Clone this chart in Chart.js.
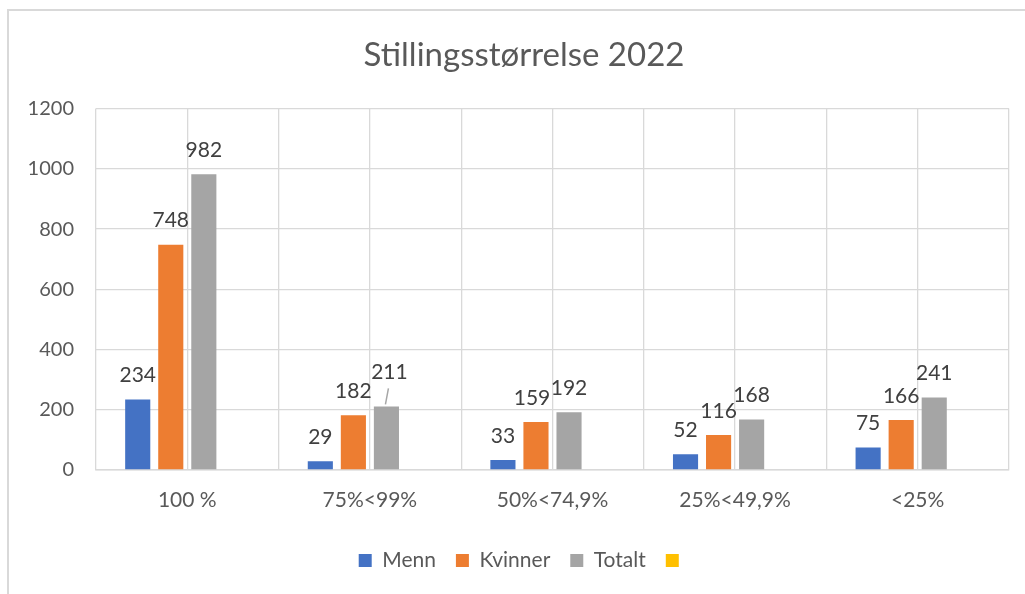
<!DOCTYPE html>
<html>
<head>
<meta charset="utf-8">
<script src="https://cdn.jsdelivr.net/npm/chart.js@4.4.1/dist/chart.umd.min.js"></script>
<style>
  html, body { margin: 0; background: #fff; overflow: hidden; }
  #frame { position: absolute; left: 7px; top: 9px; width: 1030px; height: 600px;
           border-left: 2px solid #d9d9d9; border-top: 2px solid #d9d9d9; }
  #wrap { position: absolute; left: 0; top: 0; width: 1048px; height: 594px; }
</style>
</head>
<body>
<div id="frame"></div>
<div id="wrap"><canvas id="myChart" width="1048" height="594"></canvas></div>
<script>
// data
var categories = ['100 %', '75%<99%', '50%<74,9%', '25%<49,9%', '<25%'];
var menn    = [234, 29, 33, 52, 75];
var kvinner = [748, 182, 159, 116, 166];
var totalt  = [982, 211, 192, 168, 241];
var tom     = [null, null, null, null, null]; // empty 4th series, only in the legend
var yTicks  = [0, 200, 400, 600, 800, 1000, 1200];

var FONT = 'Lato, "Open Sans", sans-serif';

// value labels above bars (no datalabels plugin available offline)
var barLabels = {
  id: 'barLabels',
  afterDatasetsDraw: function(chart, args, opts) {
    var ctx = chart.ctx;
    ctx.save();
    ctx.font = '21px ' + FONT;
    ctx.fillStyle = '#404040';
    ctx.textAlign = 'center';
    ctx.textBaseline = 'middle';
    chart.data.datasets.forEach(function(ds, di) {
      var meta = chart.getDatasetMeta(di);
      meta.data.forEach(function(el, i) {
        var v = ds.data[i];
        if (v === null || v === undefined) return;
        var n = (opts.nudge[di + ':' + i]) || {dx: 0, dy: 0};
        var lx = el.x + n.dx, ly = el.y - 24 + n.dy;
        ctx.fillText(String(v), lx, ly);
        if (n.leader) {
          ctx.strokeStyle = '#a6a6a6';
          ctx.lineWidth = 1.5;
          ctx.beginPath();
          ctx.moveTo(lx - 1, ly + 16);
          ctx.lineTo(el.x - 1, el.y - 2);
          ctx.stroke();
        }
      });
    });
    ctx.restore();
  }
};

var ctx = document.getElementById('myChart').getContext('2d');
var chart = new Chart(ctx, {
  type: 'bar',
  data: {
    labels: categories,
    datasets: [
      { label: 'Menn',    data: menn,    backgroundColor: '#4472C4' },
      { label: 'Kvinner', data: kvinner, backgroundColor: '#ED7D31' },
      { label: 'Totalt',  data: totalt,  backgroundColor: '#A5A5A5' },
      { label: '',        data: tom,     backgroundColor: '#FFC000' }
    ]
  },
  plugins: [barLabels],
  options: {
    responsive: false,
    animation: false,
    layout: { padding: { left: 0, right: 0, top: 0, bottom: 13 } },
    datasets: { bar: { categoryPercentage: 0.724, barPercentage: 0.76 } },
    plugins: {
      title: {
        display: true,
        text: 'Stillingsstørrelse 2022',
        color: '#595959',
        font: { family: FONT, size: 33, weight: 'normal', lineHeight: 1.2 },
        padding: { top: 36, bottom: 33 }
      },
      legend: {
        position: 'bottom',
        labels: {
          color: '#595959',
          font: { family: FONT, size: 21 },
          boxWidth: 13, boxHeight: 13, padding: 20
        }
      },
      tooltip: { enabled: false },
      barLabels: { nudge: { '2:1': { dx: 3, dy: -10, leader: true }, '1:2': { dx: -4, dy: 0 } } }
    },
    scales: {
      x: {
        offset: true,
        grid: { offset: true, color: '#d9d9d9', lineWidth: 1.3, drawTicks: false },
        border: { color: '#d9d9d9', width: 1.5 },
        ticks: { color: '#595959', font: { family: FONT, size: 21 }, padding: 18, maxRotation: 0 },
        afterFit: function(s) { s.height = 60; }
      },
      x2: {
        type: 'category',
        position: 'bottom',
        offset: true,
        grid: { offset: false, color: '#d9d9d9', lineWidth: 1.3, drawTicks: false },
        border: { display: false },
        ticks: { display: false },
        afterFit: function(s) { s.height = 0; }
      },
      y: {
        min: 0, max: 1200,
        afterBuildTicks: function(s) { s.ticks = yTicks.map(function(v) { return { value: v }; }); },
        grid: { color: '#d9d9d9', lineWidth: 1.3, drawTicks: false },
        border: { display: false },
        ticks: { color: '#595959', font: { family: FONT, size: 20 }, padding: 22,
                 callback: function(v) { return String(v); } },
        afterFit: function(s) { s.width = 96; }
      },
      // blank right axis so the title and legend centre where the reference has them
      yR: {
        position: 'right',
        min: 0, max: 1200,
        grid: { display: false },
        border: { display: false },
        ticks: { display: false },
        afterFit: function(s) { s.width = 39; }
      }
    }
  }
});
</script>
</body>
</html>
